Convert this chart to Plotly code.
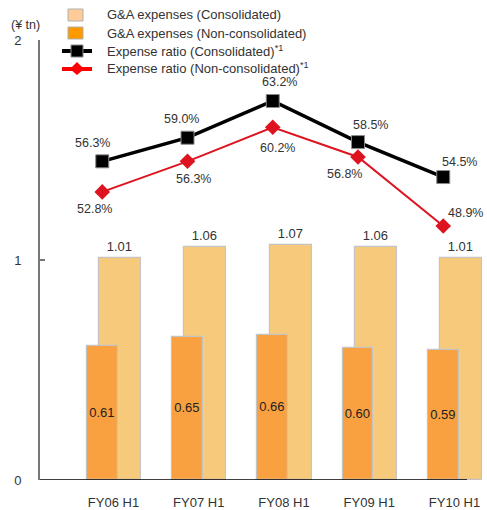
import numpy as np
import plotly.graph_objects as go

# ---- data ----
periods = ["FY06 H1", "FY07 H1", "FY08 H1", "FY09 H1", "FY10 H1"]
ga_consolidated = [1.01, 1.06, 1.07, 1.06, 1.01]          # ¥ tn
ga_non_consolidated = [0.61, 0.65, 0.66, 0.60, 0.59]      # ¥ tn
ratio_consolidated = [56.3, 59.0, 63.2, 58.5, 54.5]       # %
ratio_non_consolidated = [52.8, 56.3, 60.2, 56.8, 48.9]   # %
y_ticks = [0, 1, 2]
legend_labels = [
    "G&A expenses (Consolidated)",
    "G&A expenses (Non-consolidated)",
    "Expense ratio (Consolidated)<sup>*1</sup>",
    "Expense ratio (Non-consolidated)<sup>*1</sup>",
]

# ---- styling ----
FONT = "Liberation Sans, Arial, sans-serif"
TXT = "#333333"
C_CONS = "#F7C97A"
C_NON = "#F9A040"
C_EDGE = "#C4C4C4"
C_BLACK = "#000000"
C_RED = "#DD1420"

W, H = 487, 510
ML, MR, MT, MB = 40, 0, 40, 30
PW, PH = W - ML - MR, H - MT - MB


def px(x):
    """pixel column -> paper x"""
    return (x - ML) / PW


def py(y):
    """pixel row -> paper y"""
    return (H - MB - y) / PH


xpos = np.arange(len(periods), dtype=float)
CONS_W, CONS_OFF = 0.493, -0.170
NON_W, NON_OFF = 0.358, -0.311
line_x = xpos + NON_OFF + NON_W / 2  # ratio markers sit over the non-consolidated bars

fig = go.Figure()

fig.add_trace(go.Bar(
    x=xpos, y=ga_consolidated, name=legend_labels[0],
    width=CONS_W, offset=CONS_OFF,
    marker=dict(color=C_CONS, line=dict(color=C_EDGE, width=1.2)),
    texttemplate="%{y:.2f}", textposition="outside", textangle=0,
    textfont=dict(family=FONT, size=13, color=TXT),
    cliponaxis=False, hoverinfo="skip",
))
fig.add_trace(go.Bar(
    x=xpos, y=ga_non_consolidated, name=legend_labels[1],
    width=NON_W, offset=NON_OFF,
    marker=dict(color=C_NON, line=dict(color=C_EDGE, width=1.2)),
    texttemplate="%{y:.2f}", textposition="inside", insidetextanchor="middle",
    textangle=0, constraintext="none",
    textfont=dict(family=FONT, size=13, color="#222222"),
    cliponaxis=False, hoverinfo="skip",
))
fig.add_trace(go.Scatter(
    x=line_x, y=ratio_consolidated, yaxis="y2", mode="lines+markers",
    name=legend_labels[2],
    line=dict(color=C_BLACK, width=3.5),
    marker=dict(symbol="square", size=13, color=C_BLACK, line=dict(color="#8A8A8A", width=1)),
    cliponaxis=False, hoverinfo="skip",
))
fig.add_trace(go.Scatter(
    x=line_x, y=ratio_non_consolidated, yaxis="y2", mode="lines+markers",
    name=legend_labels[3],
    line=dict(color=C_RED, width=2),
    marker=dict(symbol="diamond", size=12, color=C_RED),
    cliponaxis=False, hoverinfo="skip",
))

# ratio labels (pixel nudges per point)
black_shift = [(-10, 18), (-6, 19), (7, 19), (12, 17), (16, 15)]
red_shift = [(-8, -17), (6, -18), (5, -21), (-14, -17), (22, 13)]
for xi, v, (dx, dy) in zip(line_x, ratio_consolidated, black_shift):
    fig.add_annotation(x=xi, y=v, xref="x", yref="y2", text=f"{v:.1f}%",
                       showarrow=False, xshift=dx, yshift=dy,
                       font=dict(family=FONT, size=12.5, color=TXT))
for xi, v, (dx, dy) in zip(line_x, ratio_non_consolidated, red_shift):
    fig.add_annotation(x=xi, y=v, xref="x", yref="y2", text=f"{v:.1f}%",
                       showarrow=False, xshift=dx, yshift=dy,
                       font=dict(family=FONT, size=12.5, color=TXT))

# unit label
fig.add_annotation(x=px(25), y=py(25), xref="paper", yref="paper", text="(¥ tn)",
                   showarrow=False, xanchor="center", yanchor="middle",
                   font=dict(family=FONT, size=12.5, color=TXT))

# baseline
fig.add_shape(type="line", xref="paper", yref="y", x0=0, x1=px(467), y0=0, y1=0,
              line=dict(color="#000000", width=1.5), layer="above")

# ---- legend, drawn by hand ----
rows = [15, 33, 51, 68]
sw_x0, sw_x1 = 68, 83
for row, fill in zip(rows[:2], ["#FFCC99", "#FF9900"]):
    fig.add_shape(type="rect", xref="paper", yref="paper",
                  x0=px(sw_x0), x1=px(sw_x1), y0=py(row - 6), y1=py(row + 6),
                  fillcolor=fill, line=dict(color="#B0B0B0", width=1), layer="above")
# consolidated ratio key
fig.add_shape(type="line", xref="paper", yref="paper",
              x0=px(62), x1=px(92), y0=py(rows[2]), y1=py(rows[2]),
              line=dict(color=C_BLACK, width=4), layer="above")
fig.add_shape(type="rect", xref="paper", yref="paper",
              x0=px(71), x1=px(83), y0=py(rows[2] - 6), y1=py(rows[2] + 6),
              fillcolor=C_BLACK, line=dict(color="#8A8A8A", width=1), layer="above")
# non-consolidated ratio key
fig.add_shape(type="line", xref="paper", yref="paper",
              x0=px(62), x1=px(92), y0=py(rows[3] + 1), y1=py(rows[3] + 1),
              line=dict(color="#FF0000", width=4), layer="above")
cx, cy = 77, rows[3]
fig.add_shape(type="path", xref="paper", yref="paper",
              path=(f"M {px(cx - 7)},{py(cy + 1)} L {px(cx)},{py(cy - 6)} "
                    f"L {px(cx + 7)},{py(cy + 1)} L {px(cx)},{py(cy + 7)} Z"),
              fillcolor="#FF0000", line=dict(color="#FF0000", width=0), layer="above")
for row, label in zip(rows, legend_labels):
    fig.add_annotation(x=px(105), y=py(row), xref="paper", yref="paper", text=label,
                       showarrow=False, xanchor="left", yanchor="middle",
                       font=dict(family=FONT, size=13, color=TXT))

fig.update_layout(
    width=W, height=H,
    margin=dict(l=ML, r=MR, t=MT, b=MB),
    paper_bgcolor="white", plot_bgcolor="white",
    barmode="overlay", bargap=0,
    font=dict(family=FONT, size=12, color=TXT),
    showlegend=False,
    xaxis=dict(range=[-0.8622, 4.3812], tickvals=xpos, ticktext=periods,
               showgrid=False, zeroline=False, showline=False, ticks="",
               ticklabelstandoff=13, tickfont=dict(family=FONT, size=13, color=TXT),
               fixedrange=True),
    yaxis=dict(range=[0, 2], tickvals=y_ticks, showgrid=False, zeroline=False,
               showline=True, linecolor="#777777", linewidth=2,
               ticks="inside", ticklen=5, tickcolor="#777777", tickwidth=1.5,
               ticklabelstandoff=14, tickfont=dict(family=FONT, size=13, color=TXT),
               fixedrange=True),
    yaxis2=dict(range=[19.84, 70.18], overlaying="y", side="right", visible=False,
                fixedrange=True),
)

fig.write_html("out.html")
